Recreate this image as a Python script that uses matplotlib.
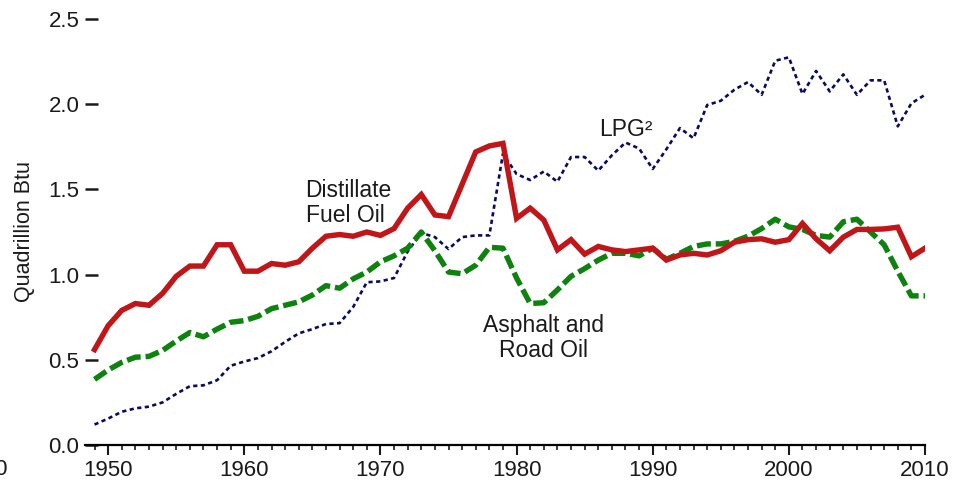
"""Petroleum product consumption, 1949-2010: distillate, LPG, asphalt and road oil."""

import matplotlib
matplotlib.use("Agg")
import matplotlib.pyplot as plt
from matplotlib.ticker import MultipleLocator

RED, GREEN, NAVY, INK = "#C11619", "#0E820E", "#0A0A62", "#1a1a1a"

plt.rcParams.update({
    "font.family": ["Liberation Sans", "DejaVu Sans"], "font.size": 16,
    "text.color": INK, "axes.labelcolor": INK,
    "xtick.color": INK, "ytick.color": INK,
})

years = list(range(1949, 2011))

distillate = [
    0.56, 0.70, 0.79, 0.83, 0.82, 0.89, 0.99, 1.05, 1.05, 1.175,
    1.175, 1.02, 1.02, 1.065, 1.055, 1.075, 1.155, 1.225, 1.235, 1.225,
    1.25, 1.23, 1.27, 1.39, 1.47, 1.35, 1.34, 1.53, 1.72, 1.755,
    1.77, 1.33, 1.39, 1.32, 1.145, 1.205, 1.12, 1.165, 1.145, 1.135,
    1.145, 1.155, 1.085, 1.115, 1.125, 1.115, 1.14, 1.19, 1.205, 1.21,
    1.19, 1.205, 1.30, 1.21, 1.14, 1.22, 1.265, 1.265, 1.268, 1.278,
    1.105, 1.155,
]

lpg = [
    0.12, 0.155, 0.195, 0.215, 0.225, 0.25, 0.30, 0.345, 0.35, 0.38,
    0.465, 0.49, 0.51, 0.55, 0.605, 0.655, 0.68, 0.71, 0.715, 0.81,
    0.955, 0.96, 0.98, 1.135, 1.245, 1.22, 1.15, 1.22, 1.23, 1.23,
    1.71, 1.59, 1.555, 1.605, 1.545, 1.69, 1.69, 1.61, 1.70, 1.775,
    1.74, 1.62, 1.735, 1.86, 1.80, 1.995, 2.02, 2.085, 2.13, 2.055,
    2.255, 2.275, 2.06, 2.195, 2.075, 2.175, 2.055, 2.14, 2.14, 1.87,
    2.005, 2.055,
]

asphalt = [
    0.385, 0.44, 0.485, 0.515, 0.52, 0.555, 0.61, 0.66, 0.635, 0.68,
    0.72, 0.73, 0.755, 0.80, 0.82, 0.84, 0.88, 0.935, 0.92, 0.975,
    1.015, 1.075, 1.11, 1.155, 1.25, 1.14, 1.015, 1.005, 1.055, 1.16,
    1.155, 0.98, 0.83, 0.835, 0.91, 0.99, 1.035, 1.085, 1.125, 1.125,
    1.11, 1.155, 1.09, 1.125, 1.165, 1.18, 1.18, 1.195, 1.225, 1.27,
    1.325, 1.28, 1.265, 1.23, 1.22, 1.31, 1.325, 1.25, 1.175, 1.02,
    0.875, 0.875,
]

fig = plt.figure(figsize=(9.54, 4.82), dpi=100)
ax = fig.add_axes([0.0891, 0.0768, 0.8805, 0.8838])

ax.plot(years, lpg, color=NAVY, lw=1.9, dashes=(1.6, 1.3), zorder=2)
ax.plot(years, asphalt, color=GREEN, lw=3.9, dashes=(2.6, 0.9), zorder=3)
ax.plot(years, distillate, color=RED, lw=3.9, solid_joinstyle="miter", zorder=4)

ax.text(1964.5, 1.42, "Distillate\nFuel Oil", ha="left", va="center",
        fontsize=16.5, linespacing=1.1)
ax.text(1988.05, 1.85, "LPG²", ha="center", va="center", fontsize=16.5)
ax.text(1982.0, 0.63, "Asphalt and\nRoad Oil", ha="center", va="center",
        fontsize=16.5, linespacing=1.1)

ax.set_xlim(1948.3, 2010)
ax.set_ylim(0, 2.5)
ax.xaxis.set_major_locator(MultipleLocator(10))
ax.xaxis.set_minor_locator(MultipleLocator(1))
ax.yaxis.set_major_locator(MultipleLocator(0.5))
ax.yaxis.set_major_formatter(lambda v, _: f"{v:.1f}")
ax.tick_params(axis="x", which="major", direction="out", length=7.5, width=1.5, pad=3)
ax.tick_params(axis="x", which="minor", direction="out", length=3.8, width=1.2)
ax.tick_params(axis="y", direction="in", length=9, width=1.8, pad=4)
# the 1940 label sits just off the left edge, only its last digit shows
ax.text(1942.6, -0.033, "1940", transform=ax.get_xaxis_transform(),
        ha="right", va="top", fontsize=16, clip_on=False)

for s in ("top", "right", "left"):
    ax.spines[s].set_visible(False)
ax.spines["bottom"].set_linewidth(1.6)
ax.set_ylabel("Quadrillion Btu", fontsize=15.5, labelpad=10)

fig.savefig("out.png", dpi=100)
